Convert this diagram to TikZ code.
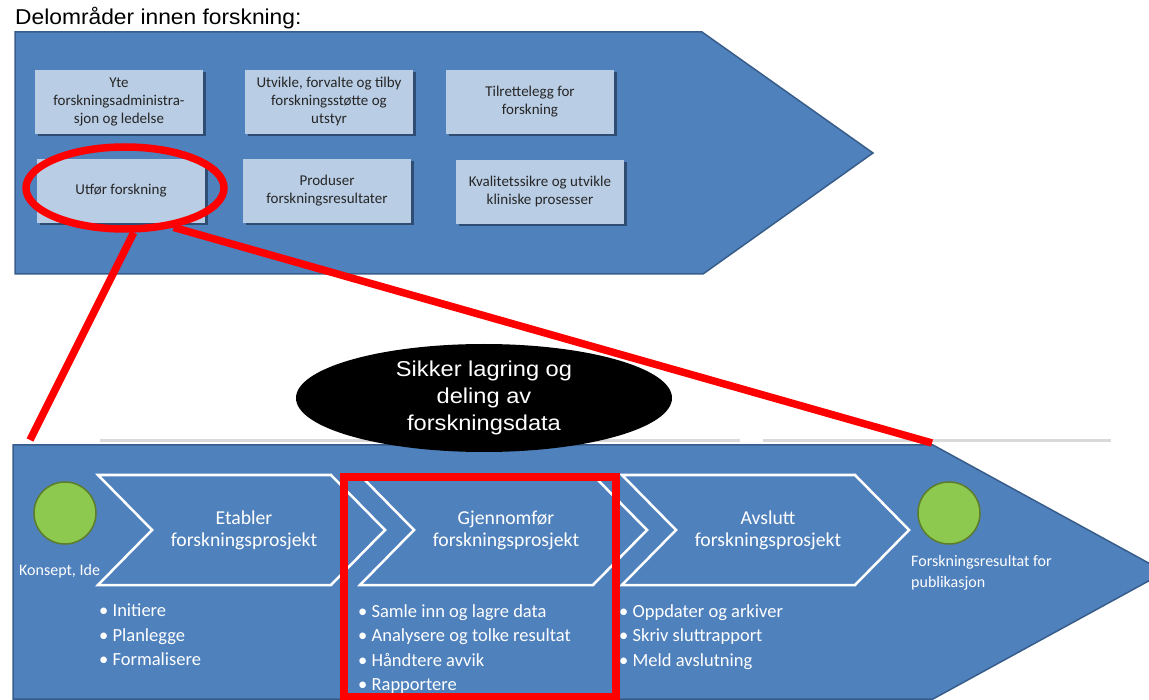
\documentclass[tikz,border=0pt]{standalone}
\usepackage{fontspec}
\setmainfont{Carlito}
\newfontfamily\arialw[FakeStretch=1.1]{Liberation Sans}
\newfontfamily\arialt[FakeStretch=1.06]{Liberation Sans}
\usetikzlibrary{shapes.geometric,shadows}

\definecolor{procblue}{HTML}{4F81BD}
\definecolor{procedge}{HTML}{385D8A}
\definecolor{boxfill}{HTML}{B9CDE5}
\definecolor{dotgreen}{HTML}{8DC84F}
\definecolor{dotedge}{HTML}{5E7D2B}
\definecolor{markred}{HTML}{FF0000}

\tikzset{
	pbox/.style={draw=none, fill=boxfill, minimum width=168, minimum height=64, align=center, inner sep=0,
		text=black!85, font=\fontsize{15}{18}\selectfont,
		drop shadow={shadow xshift=2.5pt, shadow yshift=-2.5pt, opacity=0.7, fill=procedge!60!black}},
	chev/.style={draw=white, line width=2.5, fill=procblue, line join=miter},
	chevtext/.style={text=white, align=center, font=\fontsize{19.7}{22}\selectfont},
	bullets/.style={text=white, align=left, anchor=north west, inner sep=0, font=\fontsize{18.5}{24.5}\selectfont},
	gdot/.style={circle, fill=dotgreen, draw=dotedge, line width=1.5, minimum size=62, inner sep=0},
	redmark/.style={draw=markred, line width=7.5}
}

\begin{document}
\begin{tikzpicture}[x=1pt, y=-1pt]
	\useasboundingbox (0,0) rectangle (1149,700);

	%title
	\node[anchor=base west, inner sep=0, font=\arialt\fontsize{21.5}{26}\selectfont] (title) at (15,25) {Delområder innen forskning:};

	%upper arrow with sub areas
	\filldraw[fill=procblue, draw=procedge, line width=1.5] (15,32) -- (702,32) -- (873,153) -- (703,274) -- (15,274) -- cycle;
	\node[pbox] (yte) at (119,102) {Yte\\forskningsadministra-\\sjon og ledelse};
	\node[pbox] (utv) at (329,102) {Utvikle, forvalte og tilby\\forskningsstøtte og\\utstyr};
	\node[pbox] (tilr) at (530,102) {Tilrettelegg for\\forskning};
	\node[pbox] (utfor) at (121,191) {Utfør forskning};
	\node[pbox] (prod) at (327,191) {Produser\\forskningsresultater};
	\node[pbox] (kval) at (540,192) {Kvalitetssikre og utvikle\\kliniske prosesser};

	%faint rule above the lower arrow
	\draw[black!15, line width=3] (100,441) -- (740,441);
	\draw[black!15, line width=3] (763,441) -- (1111,441);

	%lower arrow, process steps
	\filldraw[fill=procblue, draw=procedge, line width=1.5] (13,445) -- (933,445) -- (1165,572) -- (933,699) -- (13,699) -- cycle;
	\foreach \L/\name/\txt in {98/etab/Etabler, 360/gjen/Gjennomfør, 622/avsl/Avslutt} {
		\draw[chev] (\L,475) -- (\L+233,475) -- (\L+287,530) -- (\L+233,585) -- (\L,585) -- (\L+54,530) -- cycle;
		\node[chevtext] (\name) at (\L+146,530) {\txt\\forskningsprosjekt};
	}

	%start and end points
	\node[gdot] (start) at (65,513) {};
	\node[anchor=base west, inner sep=0, text=white, font=\fontsize{16}{20}\selectfont] (startlbl) at (19,575) {Konsept, Ide};
	\node[gdot] (slutt) at (949,513) {};
	\node[anchor=north west, inner sep=0, align=left, text=white, font=\fontsize{16}{21}\selectfont] (sluttlbl) at (911,555) {Forskningsresultat for\\publikasjon};

	%activities per step
	\node[bullets] (etabl) at (99,604) {\textbullet\ Initiere\\\textbullet\ Planlegge\\\textbullet\ Formalisere};
	\node[bullets] (gjenl) at (358,604) {\textbullet\ Samle inn og lagre data\\\textbullet\ Analysere og tolke resultat\\\textbullet\ Håndtere avvik\\\textbullet\ Rapportere};
	\node[bullets] (avsll) at (619,604) {\textbullet\ Oppdater og arkiver\\\textbullet\ Skriv sluttrapport\\\textbullet\ Meld avslutning};

	%storage bubble
	\node[ellipse, fill=black, minimum width=376, minimum height=108, inner sep=0, text=white, align=center,
		font=\arialw\fontsize{21.5}{27}\selectfont] (lagring) at (484,398) {Sikker lagring og\\deling av\\forskningsdata};

	%red zoom marking
	\node[ellipse, redmark, minimum width=198, minimum height=82, inner sep=0] (ring) at (125,188) {};
	\coordinate (zoomL) at (30,440);
	\coordinate (zoomR) at (932,443);
	\draw[redmark] (ring.-79) -- (zoomL);
	\draw[redmark] (ring.-39) -- (zoomR);
	\draw[redmark] (344,477) rectangle (616,697);

\end{tikzpicture}
\end{document}
